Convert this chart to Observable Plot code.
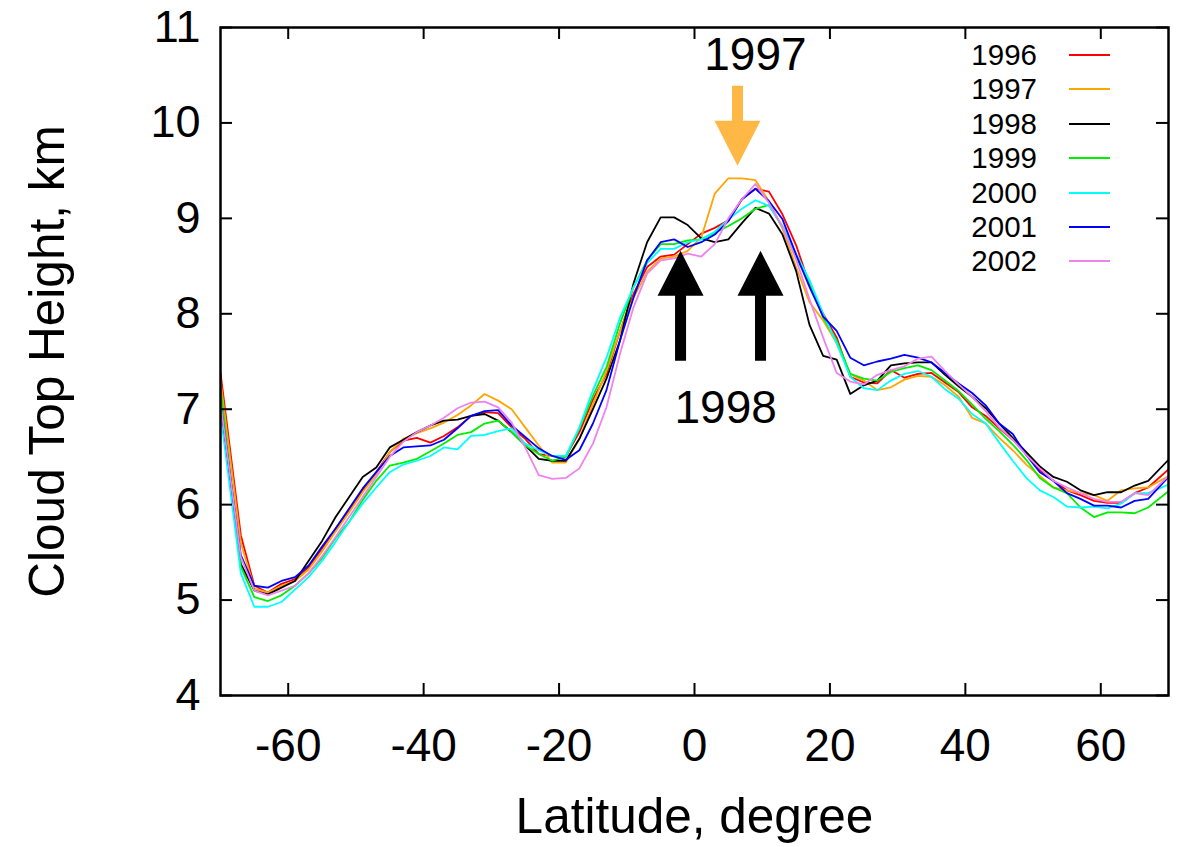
<!DOCTYPE html>
<html>
<head>
<meta charset="utf-8">
<script src="https://cdn.jsdelivr.net/npm/d3@7"></script>
<script src="https://cdn.jsdelivr.net/npm/@observablehq/plot@0.6"></script>
<style>
  html, body { margin: 0; padding: 0; background: #fff; }
  #wrap { position: relative; width: 1190px; height: 847px; font-family: "Liberation Sans", Arial, Helvetica, sans-serif; }
  .lg-text { position: absolute; width: 120px; text-align: right; font-size: 29.5px; line-height: 34px; height: 34px; color: #000; }
  .lg-line { position: absolute; width: 41px; height: 2px; }
</style>
</head>
<body>
<div id="wrap"></div>
<script>
// ---- data ----
const latitude = [-70,-67,-65,-63,-61,-59,-57,-55,-53,-51,-49,-47,-45,-43,-41,-39,-37,-35,-33,-31,-29,-27,-25,-23,-21,-19,-17,-15,-13,-11,-9,-7,-5,-3,-1,1,3,5,7,9,11,13,15,17,19,21,23,25,27,29,31,33,35,37,39,41,43,45,47,49,51,53,55,57,59,61,63,65,67,70];

const years = ["1996","1997","1998","1999","2000","2001","2002"];
const yearColors = ["#ff0000","#ffa500","#000000","#00ee00","#00ffff","#0000ff","#ee82ee"];

const h1996 = [7.38,5.68,5.15,5.08,5.17,5.22,5.34,5.54,5.75,5.94,6.15,6.34,6.55,6.67,6.70,6.65,6.72,6.81,6.93,6.97,6.96,6.81,6.69,6.53,6.51,6.51,6.76,7.10,7.37,7.82,8.21,8.49,8.60,8.62,8.73,8.84,8.90,8.98,9.20,9.31,9.28,9.04,8.72,8.30,8.00,7.75,7.34,7.28,7.27,7.41,7.33,7.37,7.38,7.28,7.18,7.02,6.93,6.80,6.68,6.53,6.36,6.25,6.15,6.10,6.04,6.02,6.02,6.12,6.18,6.37];
const h1997 = [7.30,5.60,5.12,5.08,5.15,5.20,5.32,5.51,5.72,5.92,6.13,6.32,6.55,6.69,6.75,6.80,6.86,6.94,7.04,7.16,7.09,7.00,6.81,6.62,6.44,6.44,6.69,7.05,7.40,7.82,8.17,8.44,8.58,8.60,8.66,8.80,9.26,9.42,9.42,9.40,9.18,8.89,8.49,8.12,7.93,7.69,7.37,7.30,7.20,7.23,7.31,7.35,7.34,7.25,7.13,6.91,6.85,6.70,6.57,6.42,6.30,6.18,6.15,6.12,6.10,6.04,6.15,6.17,6.18,6.30];
const h1998 = [7.00,5.38,5.10,5.06,5.13,5.20,5.41,5.62,5.87,6.08,6.29,6.39,6.60,6.68,6.76,6.83,6.88,6.89,6.93,6.95,6.88,6.76,6.62,6.48,6.46,6.46,6.69,7.00,7.32,7.72,8.32,8.75,9.01,9.01,8.93,8.79,8.75,8.78,8.95,9.11,9.05,8.83,8.45,7.88,7.56,7.52,7.16,7.25,7.30,7.46,7.48,7.49,7.49,7.36,7.24,7.13,7.01,6.85,6.70,6.55,6.40,6.29,6.24,6.15,6.10,6.13,6.13,6.20,6.25,6.47];
const h1999 = [7.22,5.35,5.03,4.99,5.05,5.15,5.28,5.44,5.65,5.82,6.05,6.25,6.41,6.44,6.48,6.56,6.64,6.73,6.76,6.85,6.88,6.76,6.62,6.53,6.46,6.50,6.80,7.14,7.44,7.90,8.28,8.56,8.73,8.73,8.77,8.78,8.85,8.92,9.00,9.10,9.14,8.91,8.59,8.33,7.96,7.72,7.37,7.32,7.30,7.39,7.43,7.46,7.41,7.30,7.19,7.05,6.90,6.77,6.63,6.47,6.28,6.18,6.12,5.97,5.87,5.92,5.92,5.91,5.97,6.14];
const h2000 = [6.95,5.28,4.93,4.93,4.98,5.11,5.24,5.41,5.61,5.82,6.01,6.18,6.34,6.42,6.46,6.51,6.60,6.58,6.72,6.73,6.77,6.80,6.64,6.57,6.51,6.51,6.81,7.20,7.54,7.96,8.28,8.53,8.68,8.68,8.75,8.78,8.86,8.99,9.10,9.19,9.13,8.92,8.63,8.35,8.00,7.69,7.34,7.22,7.20,7.30,7.37,7.40,7.34,7.21,7.11,6.95,6.85,6.65,6.46,6.28,6.15,6.08,5.98,5.97,5.98,5.96,6.01,6.12,6.12,6.21];
const h2001 = [7.07,5.47,5.15,5.13,5.20,5.24,5.36,5.56,5.75,5.96,6.17,6.34,6.51,6.60,6.61,6.62,6.68,6.80,6.93,6.98,6.99,6.83,6.71,6.59,6.51,6.47,6.57,6.85,7.20,7.72,8.17,8.56,8.75,8.78,8.70,8.75,8.83,8.97,9.20,9.31,9.18,8.99,8.62,8.28,7.97,7.82,7.54,7.46,7.50,7.53,7.57,7.54,7.49,7.38,7.27,7.17,7.04,6.85,6.74,6.52,6.34,6.25,6.12,6.06,5.99,5.99,5.97,6.04,6.06,6.29];
const h2002 = [7.07,5.45,5.10,5.05,5.10,5.15,5.28,5.46,5.66,5.87,6.08,6.29,6.50,6.66,6.76,6.83,6.91,7.01,7.07,7.08,7.02,6.86,6.60,6.31,6.27,6.28,6.38,6.64,7.02,7.58,8.07,8.42,8.56,8.58,8.63,8.60,8.73,9.00,9.20,9.36,9.16,8.91,8.57,8.15,7.75,7.38,7.29,7.26,7.36,7.41,7.45,7.53,7.55,7.40,7.26,7.13,6.98,6.81,6.68,6.52,6.38,6.25,6.18,6.12,6.06,6.03,6.03,6.12,6.10,6.30];

const seriesValues = [h1996, h1997, h1998, h1999, h2000, h2001, h2002];

const xTicks = [-60, -40, -20, 0, 20, 40, 60];
const xTickLabels = ["-60", "-40", "-20", "0", "20", "40", "60"];
const yTicks = [4, 5, 6, 7, 8, 9, 10, 11];
const yTickLabels = ["4", "5", "6", "7", "8", "9", "10", "11"];

// annotations (data coordinates)
const annotLabels = ["1997", "1998"];
const annotLat = [9.0, 4.6];
const annotHeight = [10.71, 7.01];
const upArrowLat = [-2.06, 9.75];
const upArrowTip = [8.66, 8.66];
const downArrowLat = [6.35];
const downArrowTip = [9.55];

// ---- build tables ----
const rows = years.flatMap((yr, s) => latitude.map((lat, i) => ({year: yr, lat, h: seriesValues[s][i]})));
const annots = annotLabels.map((t, i) => ({t, lat: annotLat[i], h: annotHeight[i]}));
const ups = upArrowLat.map((lat, i) => ({lat, h: upArrowTip[i]}));
const downs = downArrowLat.map((lat, i) => ({lat, h: downArrowTip[i]}));

// custom arrow glyphs (tip at the anchor point)
const arrowUp = { draw(ctx) {
  ctx.moveTo(0, 0); ctx.lineTo(23, 45); ctx.lineTo(5.5, 45); ctx.lineTo(5.5, 110);
  ctx.lineTo(-5.5, 110); ctx.lineTo(-5.5, 45); ctx.lineTo(-23, 45); ctx.closePath();
}};
const arrowDown = { draw(ctx) {
  ctx.moveTo(0, 0); ctx.lineTo(23, -45); ctx.lineTo(5.5, -45); ctx.lineTo(5.5, -80);
  ctx.lineTo(-5.5, -80); ctx.lineTo(-5.5, -45); ctx.lineTo(-23, -45); ctx.closePath();
}};

const W = 1190, H = 847;
const mL = 220, mR = 22, mT = 27, mB = 152;
const innerW = W - mL - mR, innerH = H - mT - mB;
const tickLen = 12;

const chart = Plot.plot({
  width: W,
  height: H,
  marginLeft: mL,
  marginRight: mR,
  marginTop: mT,
  marginBottom: mB,
  style: {fontFamily: "Liberation Sans, Arial, Helvetica, sans-serif", fontSize: "45px", color: "#000", background: "#fff"},
  x: {domain: [-70, 70]},
  y: {domain: [4, 11]},
  color: {domain: years, range: yearColors},
  marks: [
    Plot.line(rows, {x: "lat", y: "h", z: "year", stroke: "year", strokeWidth: 1.8, clip: true}),
    Plot.tickX(xTicks, {x: d => d, insetTop: innerH - tickLen, stroke: "#000", strokeWidth: 2}),
    Plot.tickX(xTicks, {x: d => d, insetBottom: innerH - tickLen, stroke: "#000", strokeWidth: 2}),
    Plot.tickY(yTicks, {y: d => d, insetRight: innerW - tickLen, stroke: "#000", strokeWidth: 2}),
    Plot.tickY(yTicks, {y: d => d, insetLeft: innerW - tickLen, stroke: "#000", strokeWidth: 2}),
    Plot.frame({stroke: "#000", strokeWidth: 2.5}),
    Plot.axisX(xTicks, {tickSize: 0, tickPadding: 33, fontSize: 46, label: null, tickFormat: (d) => xTickLabels[xTicks.indexOf(d)]}),
    Plot.axisY(yTicks, {tickSize: 0, tickPadding: 20, fontSize: 45, label: null, tickFormat: (d) => yTickLabels[yTicks.indexOf(d)]}),
    Plot.text(["Latitude, degree"], {frameAnchor: "bottom", dy: 122, lineAnchor: "middle", textAnchor: "middle", fontSize: 49.5, fill: "#000"}),
    Plot.text(["Cloud Top Height, km"], {frameAnchor: "left", dx: -172, rotate: -90, textAnchor: "middle", lineAnchor: "middle", fontSize: 49.5, fill: "#000"}),
    Plot.dot(ups, {x: "lat", y: "h", symbol: arrowUp, r: 5, fill: "#000", stroke: null}),
    Plot.dot(downs, {x: "lat", y: "h", symbol: arrowDown, r: 5, fill: "#ffb845", stroke: null}),
    Plot.text(annots, {x: "lat", y: "h", text: "t", fontSize: 46, fill: "#000"})
  ]
});

const wrap = document.getElementById("wrap");
wrap.appendChild(chart);

// legend (inside the plot frame, top right)
years.forEach((yr, i) => {
  const cy = 55 + 34.4 * i;
  const t = document.createElement("div");
  t.className = "lg-text";
  t.style.left = (1037 - 120) + "px";
  t.style.top = (cy - 17) + "px";
  t.textContent = yr;
  wrap.appendChild(t);
  const l = document.createElement("div");
  l.className = "lg-line";
  l.style.left = "1069px";
  l.style.top = (cy - 1) + "px";
  l.style.background = yearColors[i];
  wrap.appendChild(l);
});
</script>
</body>
</html>
